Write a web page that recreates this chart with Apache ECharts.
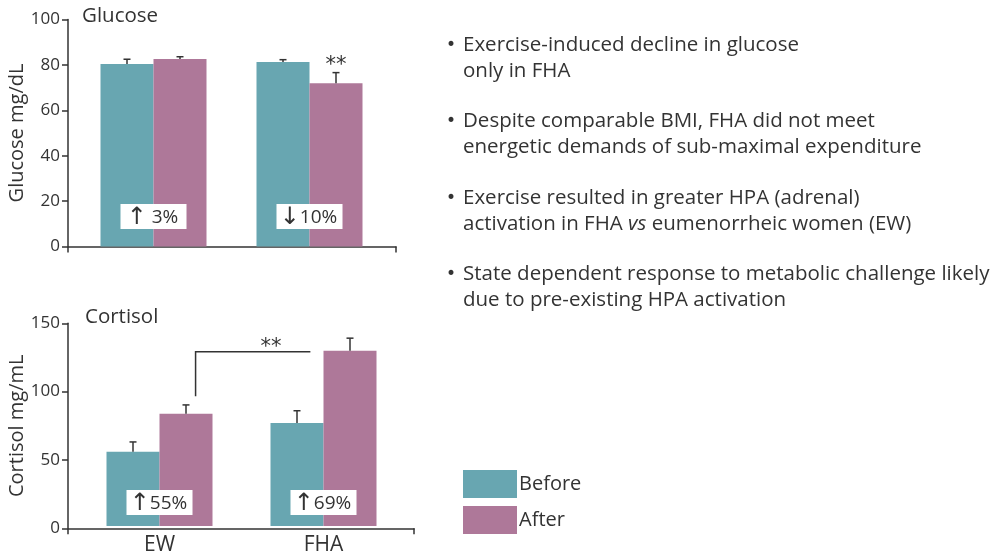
<!DOCTYPE html>
<html>
<head>
<meta charset="utf-8">
<script src="https://cdn.jsdelivr.net/npm/echarts@6/dist/echarts.min.js"></script>
<style>
html, body { margin: 0; padding: 0; background: #fff; }
#chart { width: 1000px; height: 556px; }
</style>
</head>
<body>
<div id="chart"></div>
<script>
// values
const categories = ['EW', 'FHA'];
const glucoseBefore = [80.4, 81.3];
const glucoseAfter = [82.6, 71.9];
const glucoseBeforeErr = [2.1, 1.0];
const glucoseAfterErr = [1.0, 4.7];
const glucoseStars = ['', '**'];
const glucoseArrow = ['\u2191', '\u2193'];
const glucoseChange = [' 3%', '10%'];

const cortisolBefore = [55, 76.3];
const cortisolAfter = [83, 129.7];
const cortisolBeforeErr = [7.2, 9];
const cortisolAfterErr = [6.6, 9.3];
const cortisolArrow = ['\u2191', '\u2191'];
const cortisolChange = ['55%', '69%'];

const TEAL = '#68a6b1';
const MAUVE = '#ae7899';
const INK = '#333';
const FONT = 'Open Sans';
const BAR_W = 53;

let chart = echarts.init(document.getElementById('chart'));

function errorSeries(xi, vals, errs, side, stars) {
  return {
    type: 'custom',
    xAxisIndex: xi,
    yAxisIndex: xi,
    z: 5,
    silent: true,
    data: vals.map((v, i) => [i, v, errs[i]]),
    renderItem: function (params, api) {
      const i = api.value(0), v = api.value(1), e = api.value(2);
      const base = api.coord([i, v]);
      const top = api.coord([i, v + e]);
      const x = base[0] + side * BAR_W / 2;
      const kids = [
        { type: 'line', shape: { x1: x, y1: base[1], x2: x, y2: top[1] }, style: { stroke: INK, lineWidth: 1.5 } },
        { type: 'line', shape: { x1: x - 3.5, y1: top[1], x2: x + 3.5, y2: top[1] }, style: { stroke: INK, lineWidth: 1.5 } }
      ];
      if (stars && stars[i]) {
        kids.push({ type: 'text', style: { text: stars[i], x: x, y: top[1] + 3, align: 'center', verticalAlign: 'bottom', fontSize: 21, fontFamily: 'DejaVu Sans', fill: INK } });
      }
      return { type: 'group', children: kids };
    }
  };
}

function changeSeries(xi, arrows, labels, level) {
  return {
    type: 'custom',
    xAxisIndex: xi,
    yAxisIndex: xi,
    z: 6,
    silent: true,
    data: labels.map((t, i) => [i, level]),
    renderItem: function (params, api) {
      const p = api.coord([api.value(0), api.value(1)]);
      const k = params.dataIndex;
      return {
        type: 'group',
        children: [
          { type: 'rect', shape: { x: p[0] - 33, y: p[1] - 12.5, width: 66, height: 25 }, style: { fill: '#fff' } },
          { type: 'text', style: {
              text: '{a|' + arrows[k] + '}{t|' + labels[k] + '}',
              x: p[0] - 1, y: p[1] + 1, align: 'center', verticalAlign: 'middle',
              rich: {
                a: { fontSize: 24, fontFamily: 'DejaVu Sans', fill: INK },
                t: { fontSize: 19, fontFamily: FONT, fill: INK }
              }
            } }
        ]
      };
    }
  };
}

// significance bracket between EW after and FHA before (cortisol)
const bracketLow = 96;
const bracketHigh = 129;
function bracketSeries() {
  return {
    type: 'custom',
    xAxisIndex: 2,
    yAxisIndex: 2,
    z: 6,
    silent: true,
    data: [[0, bracketLow, bracketHigh]],
    renderItem: function (params, api) {
      const a = api.coord([0, api.value(1)]);
      const b = api.coord([0, api.value(2)]);
      const bw = api.size([1, 0])[0];
      const x1 = a[0] + 0.22 * bw;
      const x2 = a[0] + bw - 0.08 * bw;
      return {
        type: 'group',
        children: [
          { type: 'polyline', shape: { points: [[x1, a[1]], [x1, b[1]], [x2, b[1]]] }, style: { stroke: INK, lineWidth: 1.5, fill: null } },
          { type: 'text', style: { text: '**', x: (x1 + x2) / 2 + 18, y: b[1] + 6, align: 'center', verticalAlign: 'bottom', fontSize: 21, fontFamily: 'DejaVu Sans', fill: INK } }
        ]
      };
    }
  };
}

const frameX = (grid) => ({
  gridIndex: grid, type: 'value', min: 0, max: 1, interval: 1,
  axisLine: { lineStyle: { color: INK, width: 1.5 } },
  axisTick: { length: 6, lineStyle: { color: INK, width: 1.5 } },
  axisLabel: { show: false },
  splitLine: { show: false }
});
const frameY = (grid, max, interval, name) => ({
  gridIndex: grid, type: 'value', min: 0, max: max, interval: interval,
  name: name, nameLocation: 'middle', nameGap: 40,
  nameTextStyle: { fontSize: 20, fontFamily: FONT, color: INK },
  axisLine: { show: true, lineStyle: { color: INK, width: 1.5 } },
  axisTick: { show: true, length: 6, lineStyle: { color: INK, width: 1.5 } },
  axisLabel: { fontSize: 17, fontFamily: FONT, color: INK, margin: 8 },
  splitLine: { show: false }
});

const bulletStyle = { fontSize: 20.5, lineHeight: 26, fontFamily: FONT, fill: INK };
const dotStyle = { text: '\u2022', fontSize: 17, fontFamily: 'DejaVu Sans', fill: INK };

chart.setOption({
  animation: false,
  textStyle: { fontFamily: FONT, color: INK },
  title: [
    { text: 'Glucose', left: 82, top: 6, padding: 0, textStyle: { fontSize: 20.5, fontWeight: 'normal', fontFamily: FONT, color: INK } },
    { text: 'Cortisol', left: 85, top: 307, padding: 0, textStyle: { fontSize: 20.5, fontWeight: 'normal', fontFamily: FONT, color: INK } }
  ],
  legend: {
    orient: 'vertical',
    left: 463,
    top: 470,
    padding: 0,
    itemWidth: 54,
    itemHeight: 28,
    itemGap: 8,
    icon: 'rect',
    data: ['Before', 'After'],
    textStyle: { fontSize: 20, fontFamily: FONT, color: INK, padding: [0, 0, 3, -3] }
  },
  grid: [
    { left: 75.5, top: 19.5, width: 312, height: 227 },
    { left: 68, top: 19.5, width: 328, height: 227 },
    { left: 77.5, top: 323.3, width: 328, height: 205 },
    { left: 68, top: 323.3, width: 346, height: 205 }
  ],
  xAxis: [
    { gridIndex: 0, type: 'category', data: categories, axisLine: { show: false }, axisTick: { show: false }, axisLabel: { show: false } },
    frameX(1),
    { gridIndex: 2, type: 'category', data: categories, axisLine: { show: false }, axisTick: { show: false },
      axisLabel: { fontSize: 21, fontFamily: FONT, color: INK, margin: 9 } },
    frameX(3)
  ],
  yAxis: [
    { gridIndex: 0, type: 'value', min: 0, max: 100, interval: 20, show: false },
    frameY(1, 100, 20, 'Glucose mg/dL'),
    { gridIndex: 2, type: 'value', min: 0, max: 150, interval: 50, show: false },
    frameY(3, 150, 50, 'Cortisol mg/mL')
  ],
  series: [
    { name: 'Before', type: 'bar', xAxisIndex: 0, yAxisIndex: 0, data: glucoseBefore, barWidth: BAR_W, barGap: '0%', itemStyle: { color: TEAL }, silent: true },
    { name: 'After', type: 'bar', xAxisIndex: 0, yAxisIndex: 0, data: glucoseAfter, barWidth: BAR_W, barGap: '0%', itemStyle: { color: MAUVE }, silent: true },
    errorSeries(0, glucoseBefore, glucoseBeforeErr, -1),
    errorSeries(0, glucoseAfter, glucoseAfterErr, 1, glucoseStars),
    changeSeries(0, glucoseArrow, glucoseChange, 13.2),
    { name: 'Before', type: 'bar', xAxisIndex: 2, yAxisIndex: 2, data: cortisolBefore, barWidth: BAR_W, barGap: '0%', itemStyle: { color: TEAL }, silent: true },
    { name: 'After', type: 'bar', xAxisIndex: 2, yAxisIndex: 2, data: cortisolAfter, barWidth: BAR_W, barGap: '0%', itemStyle: { color: MAUVE }, silent: true },
    errorSeries(2, cortisolBefore, cortisolBeforeErr, -1),
    errorSeries(2, cortisolAfter, cortisolAfterErr, 1),
    changeSeries(2, cortisolArrow, cortisolChange, 17.4),
    bracketSeries()
  ],
  graphic: [
    { type: 'text', left: 446, top: 37, style: dotStyle },
    { type: 'text', left: 463, top: 32, style: Object.assign({ text: 'Exercise-induced decline in glucose\nonly in FHA' }, bulletStyle) },
    { type: 'text', left: 446, top: 113.5, style: dotStyle },
    { type: 'text', left: 463, top: 108.5, style: Object.assign({ text: 'Despite comparable BMI, FHA did not meet\nenergetic demands of sub-maximal expenditure' }, bulletStyle) },
    { type: 'text', left: 446, top: 190, style: dotStyle },
    { type: 'text', left: 463, top: 185, style: Object.assign({
        text: '{n|Exercise resulted in greater HPA (adrenal)}\n{n|activation in FHA }{i|vs}{n| eumenorrheic women (EW)}',
        rich: {
          n: bulletStyle,
          i: Object.assign({ fontStyle: 'italic' }, bulletStyle)
        }
      }, bulletStyle) },
    { type: 'text', left: 446, top: 266, style: dotStyle },
    { type: 'text', left: 463, top: 261, style: Object.assign({ text: 'State dependent response to metabolic challenge likely\ndue to pre-existing HPA activation' }, bulletStyle) }
  ]
});
</script>
</body>
</html>
